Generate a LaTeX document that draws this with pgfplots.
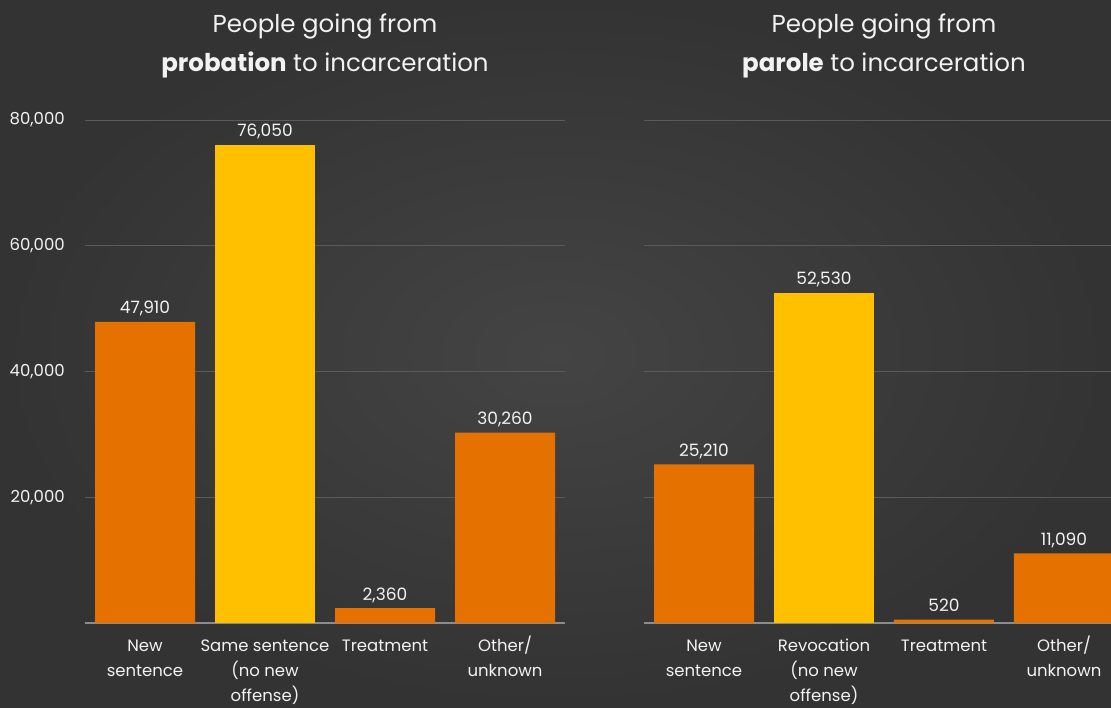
\documentclass[border=0pt]{standalone}
\usepackage{pgfplots}
\pgfplotsset{compat=1.18}
\usepackage{fontspec}
\setmainfont{Poppins}
\definecolor{bgin}{HTML}{444444}
\definecolor{bgout}{HTML}{333333}
\definecolor{orangeb}{HTML}{E57200}
\definecolor{yellowb}{HTML}{FFC000}
\definecolor{gridc}{HTML}{5A5A5A}
\definecolor{axc}{HTML}{8C8C8C}
\definecolor{txt}{HTML}{F2F2F2}
\pgfplotsset{
 mystyle/.style={
  scale only axis, height=503pt,
  ymin=0, ymax=80000, xmin=-0.5,
  ytick={20000,40000,60000,80000},
  xtick={0,1,2,3},
  ymajorgrids, grid style={gridc, line width=1pt},
  axis x line*=bottom, axis y line*=left,
  x axis line style={axc, line width=1.5pt, -},
  y axis line style={draw=none},
  major tick length=0pt,
  ybar, bar width=100pt,
  /pgf/number format/assume math mode=true,
  /pgf/number format/1000 sep={,},
  scaled y ticks=false,
  tick label style={text=txt, font=\fontsize{16.5}{25}\selectfont},
  xticklabel style={align=center, anchor=north, inner sep=0pt, yshift=-11pt},
  yticklabel style={anchor=east, inner sep=0pt, xshift=-20pt},
  nodes near coords,
  every node near coord/.append style={text=txt, font=\fontsize{17}{20}\selectfont, anchor=base, inner sep=0pt, yshift=8pt},
  clip mode=individual,
 }
}
\begin{document}
\begin{tikzpicture}
\useasboundingbox (0pt,0pt) rectangle (1111pt,707pt);
\shade[inner color=bgin, outer color=bgout] (0pt,0pt) rectangle (1111pt,707pt);
% left panel
\begin{axis}[mystyle, width=480pt, xmax=3.5, at={(85pt,84pt)}, anchor=south west,
  xticklabels={\strut New\\sentence, \strut Same sentence\\(no new\\offense), \strut Treatment, \strut Other/\\unknown}]
\addplot[fill=orangeb, draw=none, bar shift=0pt] coordinates {(0,47910) (2,2360) (3,30260)};
\addplot[fill=yellowb, draw=none, bar shift=0pt] coordinates {(1,76050)};
\end{axis}
% right panel
\begin{axis}[mystyle, width=467pt, xmax=3.392, at={(644pt,84pt)}, anchor=south west,
  yticklabel style={opacity=0, text opacity=0},
  xticklabels={\strut New\\sentence, \strut Revocation\\(no new\\offense), \strut Treatment, \strut Other/\\unknown}]
\addplot[fill=orangeb, draw=none, bar shift=0pt] coordinates {(0,25210) (2,520) (3,11090)};
\addplot[fill=yellowb, draw=none, bar shift=0pt] coordinates {(1,52530)};
\end{axis}
% titles
\node[anchor=base, text=txt, font=\fontsize{24.5}{30}\selectfont] at (325pt,674pt) {People going from};
\node[anchor=base, text=txt, font=\fontsize{24.5}{30}\selectfont] at (325pt,635pt) {\textbf{probation} to incarceration};
\node[anchor=base, text=txt, font=\fontsize{24.5}{30}\selectfont] at (884pt,674pt) {People going from};
\node[anchor=base, text=txt, font=\fontsize{24.5}{30}\selectfont] at (884pt,635pt) {\textbf{parole} to incarceration};
\end{tikzpicture}
\end{document}
